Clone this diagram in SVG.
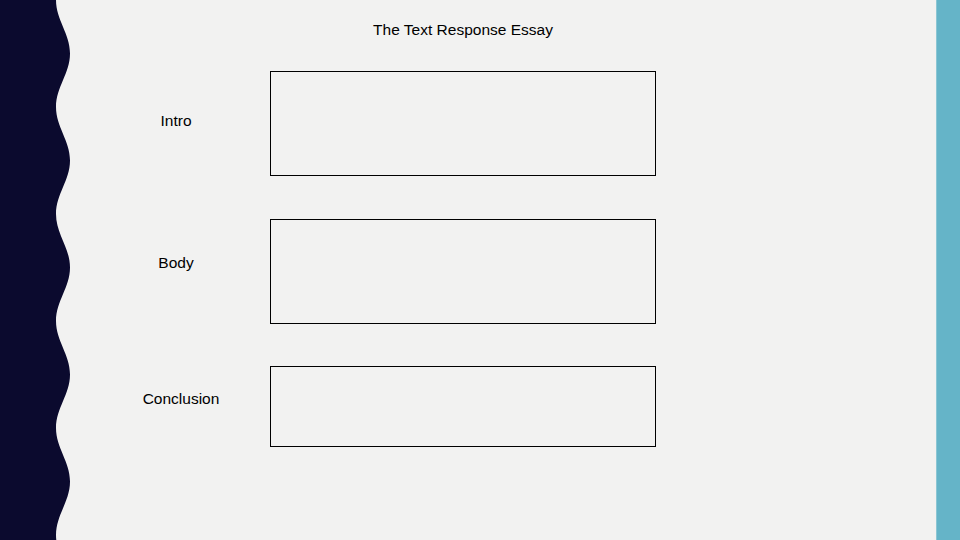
<svg xmlns="http://www.w3.org/2000/svg" width="960" height="540" viewBox="0 0 960 540">
<style>
.lbl{font-family:"Liberation Sans","Open Sans",Arial,sans-serif;font-size:15.5px;fill:#000;text-anchor:middle}
.box{fill:none;stroke:#000;stroke-width:1}
</style>
<rect x="0" y="0" width="960" height="540" fill="#f2f2f1"/>
<path id="wave" fill="#0b0a2e" d="M0,0 L56,0 C56,20 70,33.5 70,53.5 S56,87 56,107 S70,140.5 70,160.5 S56,194 56,214 S70,247.5 70,267.5 S56,301 56,321 S70,354.5 70,374.5 S56,408 56,428 S70,461.5 70,481.5 S56,515 56,535 S70,568.5 70,588.5 L0,588.5 Z"/>
<rect x="936" y="0" width="1" height="540" fill="#8cc6d4"/>
<rect x="937" y="0" width="23" height="540" fill="#65b4c8"/>
<text class="lbl" x="463" y="35">The Text Response Essay</text>
<g id="intro">
<text class="lbl" x="176" y="126">Intro</text>
<rect class="box" x="270.5" y="71.5" width="385" height="104"/>
</g>
<g id="body">
<text class="lbl" x="176" y="268">Body</text>
<rect class="box" x="270.5" y="219.5" width="385" height="104"/>
</g>
<g id="conclusion">
<text class="lbl" x="181" y="404">Conclusion</text>
<rect class="box" x="270.5" y="366.5" width="385" height="80"/>
</g>
<g id="connectors"></g>
</svg>
